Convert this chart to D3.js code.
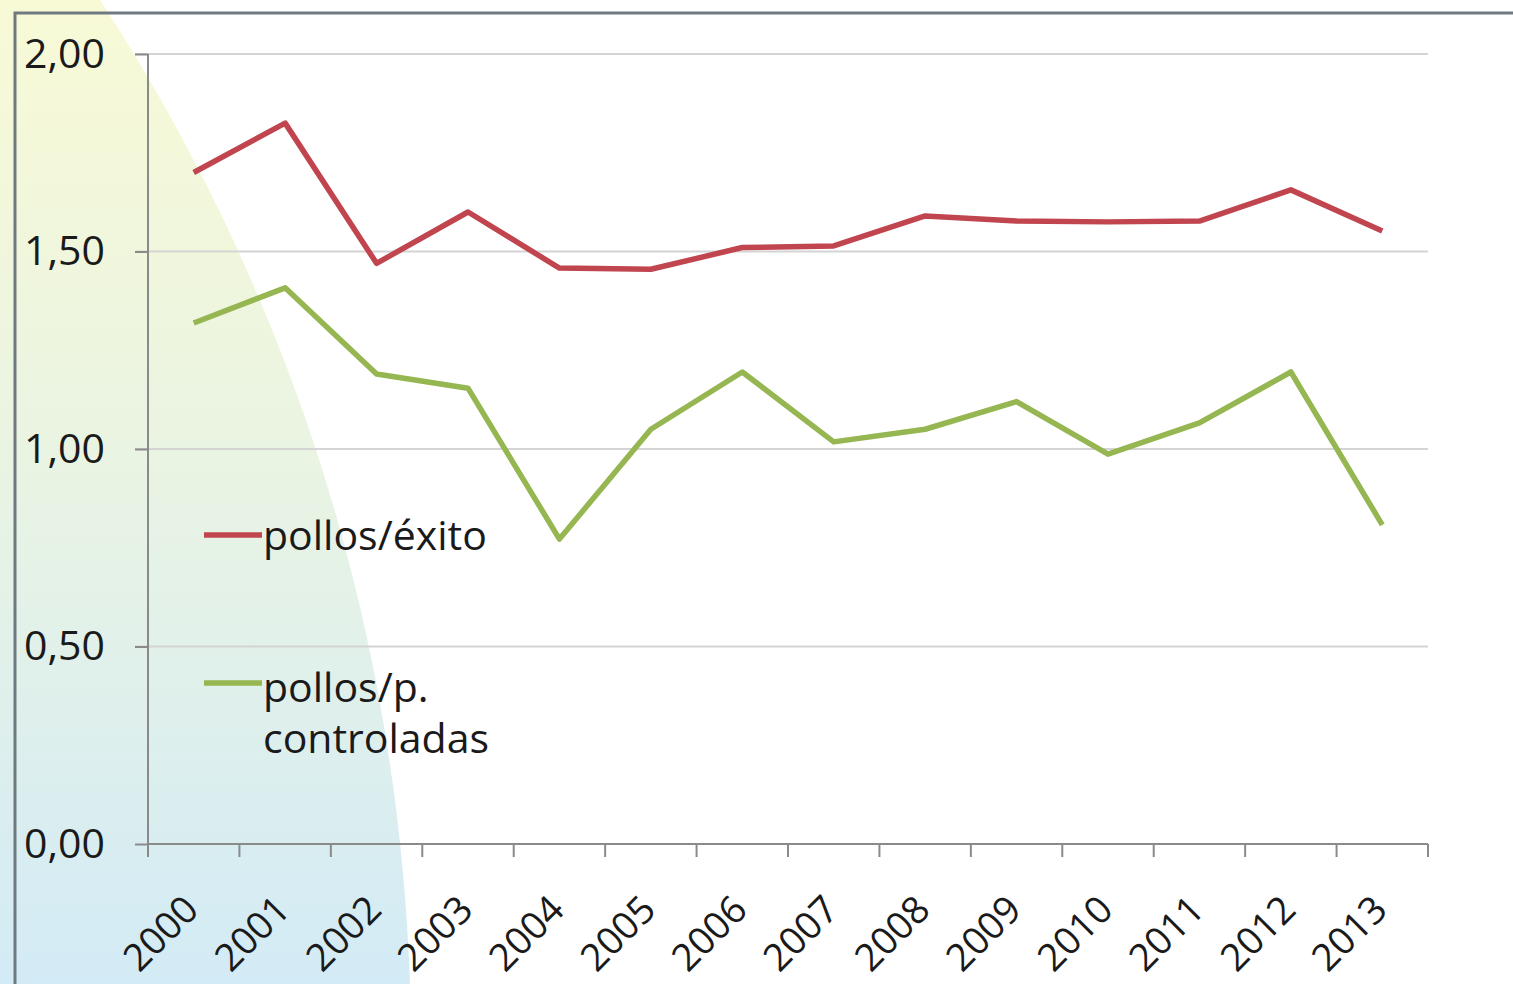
<!DOCTYPE html>
<html>
<head>
<meta charset="utf-8">
<script src="https://cdn.jsdelivr.net/npm/d3@7"></script>
<style>
  body { margin: 0; background: #fff; }
  text { font-family: "Open Sans", Lato, sans-serif; fill: #1a1a1a; }
</style>
</head>
<body>
<div id="chart"></div>
<script>
var years = ["2000","2001","2002","2003","2004","2005","2006","2007","2008","2009","2010","2011","2012","2013"];
var exito = [1.70,1.825,1.47,1.60,1.458,1.455,1.51,1.514,1.59,1.577,1.575,1.577,1.656,1.552];
var controladas = [1.319,1.408,1.19,1.154,0.772,1.05,1.195,1.018,1.05,1.12,0.987,1.066,1.195,0.808];
var yTicks = [0, 0.5, 1, 1.5, 2];
var seriesNames = ["pollos/éxito", "pollos/p. controladas"];

var svgWidth = 1513, svgHeight = 984;
var margin = {top: 54, right: 85, bottom: 140, left: 148};
var width = svgWidth - margin.left - margin.right;
var height = svgHeight - margin.top - margin.bottom;

var svg = d3.select("#chart").append("svg")
  .attr("width", svgWidth)
  .attr("height", svgHeight);

// background glow
var defs = svg.append("defs");
var grad = defs.append("linearGradient")
  .attr("id", "bgGrad")
  .attr("x1", 0).attr("y1", 0).attr("x2", 0).attr("y2", 1);
grad.append("stop").attr("offset", "0%").attr("stop-color", "#f8fad6");
grad.append("stop").attr("offset", "45%").attr("stop-color", "#eaf4e2");
grad.append("stop").attr("offset", "100%").attr("stop-color", "#d3ebf6");

svg.append("path")
  .attr("d", "M0,0 L100,0 C250,230 395,560 410,984 L0,984 Z")
  .attr("fill", "url(#bgGrad)");

// frame
svg.append("path")
  .attr("d", "M15,984 L15,13 L1513,13")
  .attr("fill", "none")
  .attr("stroke", "#6f7a80")
  .attr("stroke-width", 3);

var g = svg.append("g")
  .attr("transform", `translate(${margin.left}, ${margin.top})`);

var x = d3.scaleBand().domain(years).range([0, width]);
var y = d3.scaleLinear().domain([0, 2]).range([height, 0]);

var fmt = function(d) { return d3.format(".2f")(d).replace(".", ","); };

// gridlines
g.selectAll(".grid")
  .data(yTicks.filter(d => d > 0))
  .enter().append("line")
  .attr("x1", -13).attr("x2", width)
  .attr("y1", d => y(d)).attr("y2", d => y(d))
  .attr("stroke", "#d4d4d4")
  .attr("stroke-width", 2);

// y axis
var leftAxis = d3.axisLeft(y).tickValues(yTicks).tickFormat(fmt).tickSize(13).tickPadding(30);
var yAxisG = g.append("g").call(leftAxis);
yAxisG.select(".domain").attr("stroke", "#8a8a8a").attr("stroke-width", 2).attr("d", `M0,${height}V0`);
yAxisG.selectAll(".tick line").attr("stroke", "#8a8a8a").attr("stroke-width", 2);
yAxisG.selectAll(".tick text")
  .attr("font-size", 41)
  .attr("font-family", "'Open Sans', sans-serif")
  .attr("fill", "#1a1a1a");

// x axis
var bottomAxis = d3.axisBottom(x).tickSize(0).tickFormat("");
var xAxisG = g.append("g").attr("transform", `translate(0, ${height})`).call(bottomAxis);
xAxisG.select(".domain").attr("stroke", "#8a8a8a").attr("stroke-width", 2).attr("d", `M0,0H${width}`);

var edges = years.map(d => x(d)).concat([width]);
xAxisG.selectAll(".xtick")
  .data(edges)
  .enter().append("line")
  .attr("x1", d => d).attr("x2", d => d)
  .attr("y1", 0).attr("y2", 13)
  .attr("stroke", "#8a8a8a")
  .attr("stroke-width", 2);

xAxisG.selectAll(".xlabel")
  .data(years)
  .enter().append("text")
  .attr("transform", d => `translate(${x(d) + x.bandwidth() / 2 + 7}, 68) rotate(-45)`)
  .attr("text-anchor", "end")
  .attr("font-size", 38)
  .text(d => d);

// lines
var line = d3.line()
  .x((d, i) => x(years[i]) + x.bandwidth() / 2)
  .y(d => y(d));

g.append("path")
  .datum(exito)
  .attr("d", line)
  .attr("fill", "none")
  .attr("stroke", "#c0454f")
  .attr("stroke-width", 5.5)
  .attr("stroke-linejoin", "round");

g.append("path")
  .datum(controladas)
  .attr("d", line)
  .attr("fill", "none")
  .attr("stroke", "#95b651")
  .attr("stroke-width", 5.5)
  .attr("stroke-linejoin", "round");

// legend
var legend = svg.append("g");
var legendColors = ["#c0454f", "#95b651"];
var legendY = [535, 683];

legend.selectAll(".lg-line")
  .data(seriesNames)
  .enter().append("line")
  .attr("x1", 204).attr("x2", 262)
  .attr("y1", (d, i) => legendY[i]).attr("y2", (d, i) => legendY[i])
  .attr("stroke", (d, i) => legendColors[i])
  .attr("stroke-width", 5.5);

legend.append("text")
  .attr("x", 263).attr("y", 550)
  .attr("font-size", 41)
  .text(seriesNames[0]);

var t2 = legend.append("text")
  .attr("x", 263).attr("y", 702)
  .attr("font-size", 41);
t2.append("tspan").attr("x", 263).text("pollos/p.");
t2.append("tspan").attr("x", 263).attr("dy", 51).text("controladas");
</script>
</body>
</html>
